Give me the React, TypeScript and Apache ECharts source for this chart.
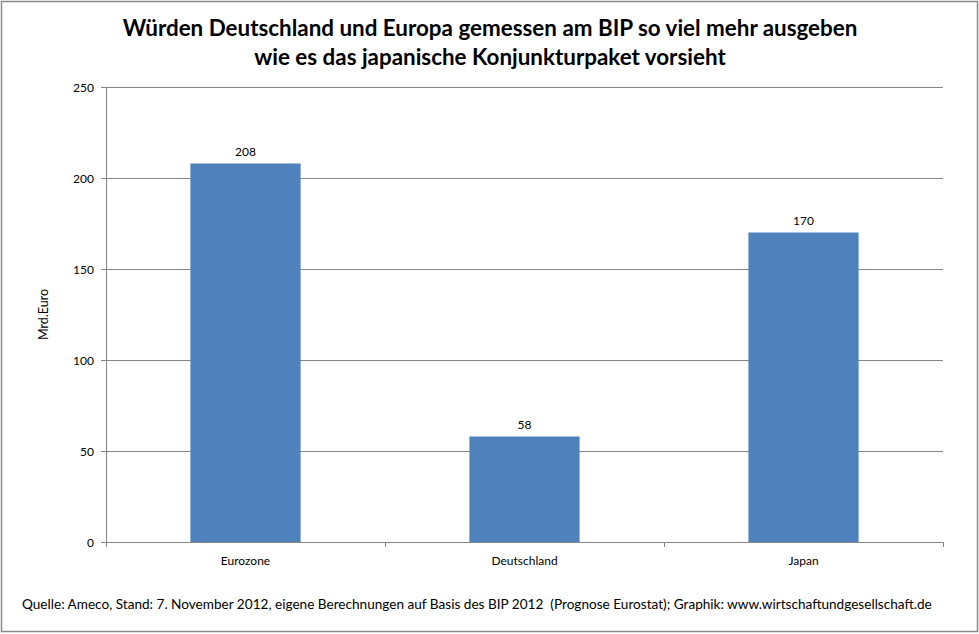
import React, { useEffect, useRef } from "react";
import * as echarts from "echarts";

const categories = ["Eurozone", "Deutschland", "Japan"];
const values = [208, 58, 170];
const titleLines = [
  "Würden Deutschland und Europa gemessen am BIP so viel mehr ausgeben",
  "wie es das japanische Konjunkturpaket vorsieht",
];
const yAxisName = "Mrd.Euro";
const sourceText =
  "Quelle: Ameco, Stand: 7. November 2012, eigene Berechnungen auf Basis des BIP 2012  (Prognose Eurostat); Graphik: www.wirtschaftundgesellschaft.de";

export default function App() {
  const ref = useRef<HTMLDivElement>(null);
  useEffect(() => {
    document.body.style.margin = "0";
    const chart = echarts.init(ref.current!, null, { renderer: "svg" });
    const font = "Lato, 'Noto Sans', sans-serif";
    chart.setOption({
      animation: false,
      backgroundColor: "#ffffff",
      textStyle: { fontFamily: font },
      title: {
        text: titleLines.join("\n"),
        left: 485,
        textAlign: "center",
        top: 8,
        textStyle: {
          fontFamily: font,
          fontSize: 22.4,
          fontWeight: "bold",
          color: "#000",
          lineHeight: 29,
        },
      },
      graphic: [
        {
          type: "rect",
          shape: { x: 1.5, y: 1.5, width: 976, height: 630 },
          style: { fill: "none", stroke: "#8a8a8a", lineWidth: 1.5 },
          silent: true,
        },
        {
          type: "text",
          left: 22,
          top: 597,
          style: { text: sourceText, fontFamily: font, fontSize: 13.6, fill: "#000" },
        },
      ],
      grid: { left: 106, right: 36, top: 87, bottom: 92, containLabel: false },
      xAxis: {
        type: "category",
        data: categories,
        axisLine: { lineStyle: { color: "#868686" } },
        axisTick: { show: true, alignWithLabel: false, length: 5, lineStyle: { color: "#868686" } },
        axisLabel: { color: "#000", fontSize: 12, margin: 12, fontFamily: font },
      },
      yAxis: {
        type: "value",
        min: 0,
        max: 250,
        interval: 50,
        name: yAxisName,
        nameLocation: "middle",
        nameGap: 56,
        nameRotate: 90,
        nameTextStyle: { color: "#000", fontSize: 12.5, fontFamily: font },
        axisLine: { show: true, lineStyle: { color: "#868686" } },
        axisTick: { show: true, length: 5, lineStyle: { color: "#868686" } },
        axisLabel: { color: "#000", fontSize: 12, margin: 12, fontFamily: font },
        splitLine: { show: true, lineStyle: { color: "#868686" } },
      },
      series: [
        {
          type: "bar",
          data: values,
          barWidth: "39.5%",
          itemStyle: { color: "#4F81BD" },
          label: {
            show: true,
            position: "top",
            distance: 6,
            color: "#000",
            fontSize: 12,
            fontFamily: font,
          },
        },
      ],
    });
    return () => chart.dispose();
  }, []);
  return (
    <div
      ref={ref}
      style={{ position: "absolute", left: 0, top: 0, width: 979, height: 634 }}
    />
  );
}
